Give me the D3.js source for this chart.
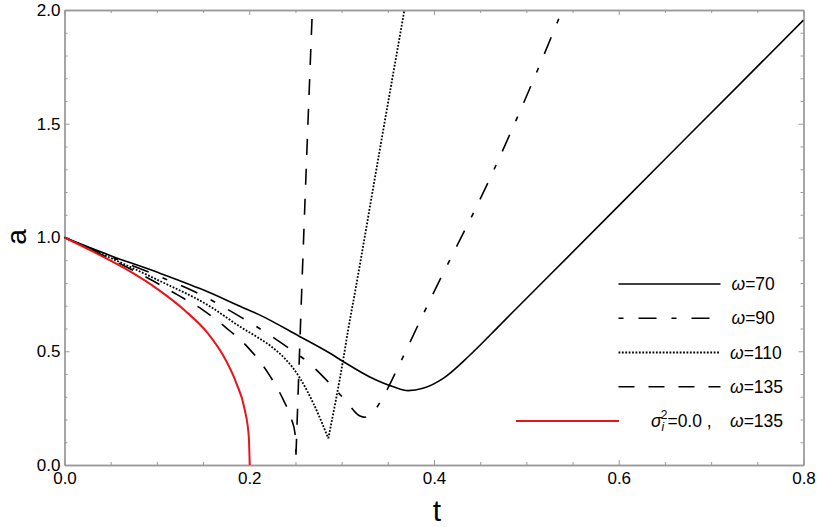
<!DOCTYPE html>
<html>
<head>
<meta charset="utf-8">
<script src="https://cdn.jsdelivr.net/npm/d3@7"></script>
<style>
body { margin: 0; background: #fff; }
text { font-family: "Liberation Sans", Arial, sans-serif; }
</style>
</head>
<body>
<svg id="chart" width="817" height="527"></svg>
<script>
// values
const t70 = [0, 0.05, 0.1, 0.15, 0.19, 0.21, 0.255, 0.2874, 0.302, 0.33, 0.356, 0.372, 0.388, 0.41, 0.439, 0.4714, 0.5, 0.545, 0.65, 0.73, 0.8];
const a70 = [1, 0.92, 0.848, 0.77, 0.698, 0.662, 0.564, 0.491, 0.454, 0.388, 0.344, 0.327, 0.337, 0.381, 0.4835, 0.615, 0.732, 0.915, 1.344, 1.67, 1.956];

const t90 = [0, 0.05, 0.1, 0.1394, 0.1918, 0.215, 0.2405, 0.264, 0.2856, 0.3037, 0.3199, 0.3253, 0.336, 0.345, 0.3632, 0.381, 0.3957, 0.4606, 0.5, 0.539];
const a90 = [1, 0.915, 0.833, 0.765, 0.648, 0.59, 0.52, 0.45, 0.365, 0.286, 0.215, 0.21, 0.242, 0.3, 0.447, 0.6, 0.725, 1.26, 1.62, 2.0];

const t110 = [0, 0.05, 0.1, 0.158, 0.19, 0.2115, 0.2225, 0.255, 0.2694, 0.2856, 0.302, 0.307, 0.3145, 0.3415, 0.368];
const a110 = [1, 0.91, 0.815, 0.696, 0.608, 0.555, 0.525, 0.381, 0.271, 0.117, 0.47, 0.593, 0.76, 1.39, 2.0];

const t135 = [0, 0.05, 0.1, 0.1214, 0.15, 0.1756, 0.199, 0.2206, 0.2369, 0.246, 0.2495, 0.2506, 0.2565, 0.2683];
const a135 = [1, 0.905, 0.8, 0.75, 0.681, 0.601, 0.515, 0.403, 0.286, 0.198, 0.139, 0.045, 0.733, 2.0];

const tRed = [0, 0.03, 0.065, 0.1, 0.13, 0.155, 0.172, 0.186, 0.195, 0.1995, 0.2005];
const aRed = [1, 0.94, 0.865, 0.775, 0.68, 0.58, 0.48, 0.36, 0.245, 0.125, 0];

const xTicks = [0, 0.2, 0.4, 0.6, 0.8];
const xMinor = [0.05, 0.1, 0.15, 0.25, 0.3, 0.35, 0.45, 0.5, 0.55, 0.65, 0.7, 0.75];
const yTicks = [0, 0.5, 1, 1.5, 2];
const yMinor = [0.1, 0.2, 0.3, 0.4, 0.6, 0.7, 0.8, 0.9, 1.1, 1.2, 1.3, 1.4, 1.6, 1.7, 1.8, 1.9];

const omegas = ['70', '90', '110', '135'];

const svg = d3.select('#chart');
const x = d3.scaleLinear().domain([0, 0.8]).range([64.5, 803.5]);
const y = d3.scaleLinear().domain([0, 2]).range([465, 10]);

const fmt = d3.format('.1f');
const frameColor = '#9a9a9a';

function styleAxis(g) {
  g.select('.domain').attr('stroke', frameColor).attr('stroke-width', 1.3);
  g.selectAll('.tick line').attr('stroke', frameColor);
  g.selectAll('.tick text').attr('font-size', 17).attr('fill', '#000')
    .attr('font-family', '"Liberation Sans", Arial, sans-serif');
}

// bottom / left with labels
svg.append('g').attr('transform', `translate(0,${y(0)})`)
  .call(d3.axisBottom(x).tickValues(xTicks).tickFormat(fmt).tickSizeInner(-5).tickSizeOuter(0).tickPadding(7))
  .call(styleAxis);
svg.append('g').attr('transform', `translate(0,${y(0)})`)
  .call(d3.axisBottom(x).tickValues(xMinor).tickFormat('').tickSizeInner(-3).tickSizeOuter(0))
  .call(styleAxis);
svg.append('g').attr('transform', `translate(${x(0)},0)`)
  .call(d3.axisLeft(y).tickValues(yTicks).tickFormat(fmt).tickSizeInner(-5).tickSizeOuter(0).tickPadding(4))
  .call(styleAxis);
svg.append('g').attr('transform', `translate(${x(0)},0)`)
  .call(d3.axisLeft(y).tickValues(yMinor).tickFormat('').tickSizeInner(-3).tickSizeOuter(0))
  .call(styleAxis);

// top / right frame, ticks only
svg.append('g').attr('transform', `translate(0,${y(2)})`)
  .call(d3.axisTop(x).tickValues(xTicks).tickFormat('').tickSizeInner(-5).tickSizeOuter(0))
  .call(styleAxis);
svg.append('g').attr('transform', `translate(0,${y(2)})`)
  .call(d3.axisTop(x).tickValues(xMinor).tickFormat('').tickSizeInner(-3).tickSizeOuter(0))
  .call(styleAxis);
svg.append('g').attr('transform', `translate(${x(0.8)},0)`)
  .call(d3.axisRight(y).tickValues(yTicks).tickFormat('').tickSizeInner(-5).tickSizeOuter(0))
  .call(styleAxis);
svg.append('g').attr('transform', `translate(${x(0.8)},0)`)
  .call(d3.axisRight(y).tickValues(yMinor).tickFormat('').tickSizeInner(-3).tickSizeOuter(0))
  .call(styleAxis);

// axis titles
svg.append('text').attr('x', 437).attr('y', 521).attr('text-anchor', 'middle')
  .attr('font-size', 30).text('t');
svg.append('text').attr('transform', 'translate(26,237) rotate(-90)').attr('text-anchor', 'middle')
  .attr('font-size', 28).text('a');

// curves
svg.append('clipPath').attr('id', 'clip').append('rect')
  .attr('x', x(0)).attr('y', y(2)).attr('width', x(0.8) - x(0)).attr('height', y(0) - y(2));

const line = d3.line().x(d => x(d[0])).y(d => y(d[1])).curve(d3.curveMonotoneX);

const series = [
  { t: t70, a: a70, dash: null, color: '#000', w: 1.6, cusp: false },
  { t: t90, a: a90, dash: '5,15,18,15', color: '#000', w: 1.6, cusp: false },
  { t: t110, a: a110, dash: '1.8,1.6', color: '#000', w: 1.8, cusp: true },
  { t: t135, a: a135, dash: '16,14', color: '#000', w: 1.6, cusp: true },
  { t: tRed, a: aRed, dash: null, color: '#e8141b', w: 2, cusp: false }
];

const plot = svg.append('g').attr('clip-path', 'url(#clip)');
series.forEach(s => {
  const pts = s.t.map((t, i) => [t, s.a[i]]);
  let d;
  if (s.cusp) {
    const k = d3.minIndex(s.a);
    d = line(pts.slice(0, k + 1)) + line(pts.slice(k));
  } else {
    d = line(pts);
  }
  plot.append('path')
    .attr('d', d)
    .attr('fill', 'none')
    .attr('stroke', s.color)
    .attr('stroke-width', s.w)
    .attr('stroke-dasharray', s.dash);
});

// legend
const leg = svg.append('g');
omegas.forEach((w, i) => {
  const ly = 284 + i * 34.25;
  const s = series[i];
  leg.append('line').attr('x1', 618.5).attr('x2', 720.5).attr('y1', ly).attr('y2', ly)
    .attr('stroke', s.color).attr('stroke-width', s.w).attr('stroke-dasharray', s.dash);
  const tx = leg.append('text').attr('x', w.length > 2 ? 730 : 731.5).attr('y', ly + 6).attr('font-size', 17.5);
  tx.append('tspan').attr('font-style', 'italic').text('ω');
  tx.append('tspan').text('=' + w);
});

const ly5 = 284 + 4 * 34.25;
leg.append('line').attr('x1', 516).attr('x2', 619).attr('y1', ly5).attr('y2', ly5)
  .attr('stroke', series[4].color).attr('stroke-width', series[4].w);
const t5 = leg.append('text').attr('x', 651).attr('y', ly5 + 6).attr('font-size', 17.5);
t5.append('tspan').attr('font-style', 'italic').text('σ');
t5.append('tspan').attr('font-style', 'italic').attr('font-size', 12).attr('dy', 4).text('i');
t5.append('tspan').attr('font-size', 12).attr('dx', -3.5).attr('dy', -12).text('2');
t5.append('tspan').attr('dy', 8).text('=0.0 ,');
leg.append('text').attr('x', 730).attr('y', ly5 + 6).attr('font-size', 17.5)
  .call(g => { g.append('tspan').attr('font-style', 'italic').text('ω'); g.append('tspan').text('=' + omegas[3]); });
</script>
</body>
</html>
